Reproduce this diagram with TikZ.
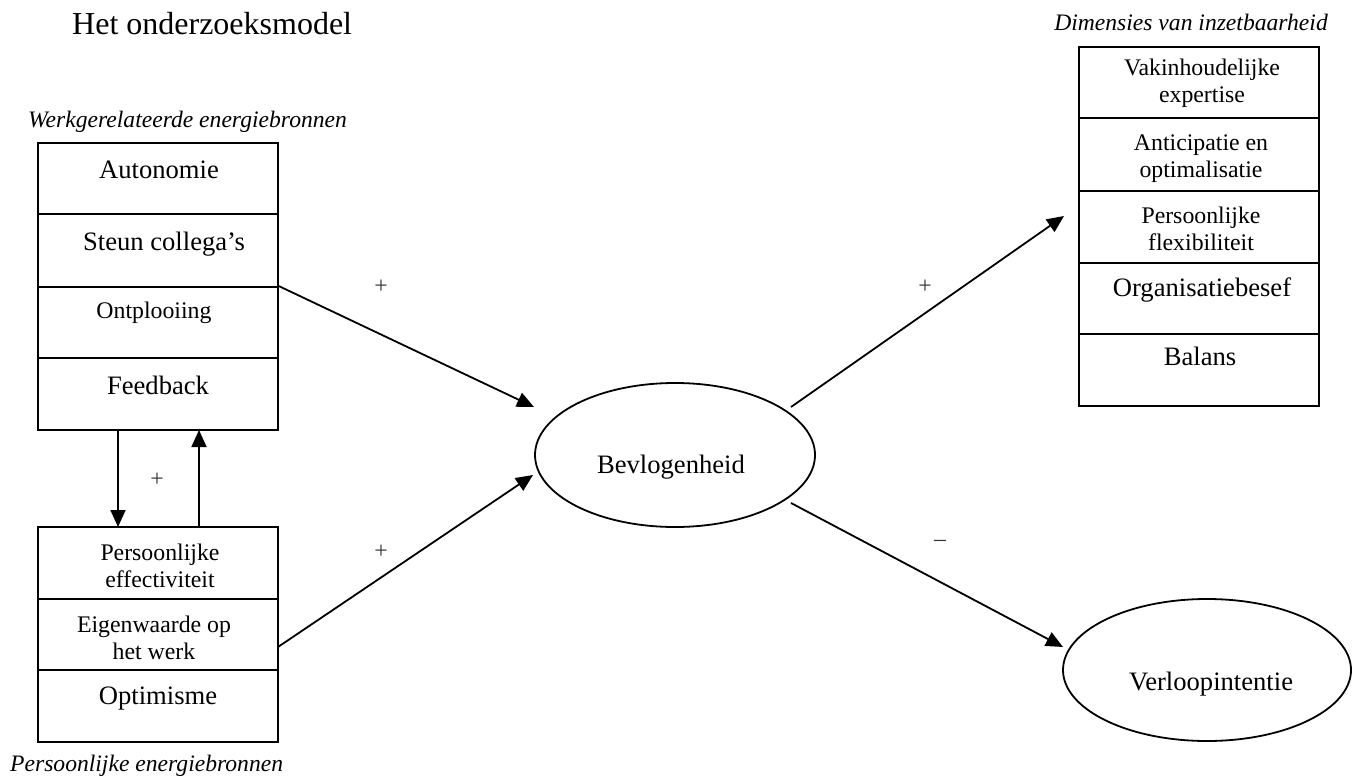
\documentclass[tikz,border=0pt]{standalone}
\usepackage{fontspec}
\setmainfont{Liberation Serif}
\usetikzlibrary{arrows.meta,shapes.geometric}
\begin{document}
\begin{tikzpicture}[x=1pt,y=-1pt,
  cellbox/.style={draw,line width=1.8pt,minimum width=240pt,inner sep=0pt},
  big/.style={font=\fontsize{26.6}{30}\selectfont,inner sep=0pt,align=center},
  small/.style={font=\fontsize{23.8}{27}\selectfont,inner sep=0pt,align=center},
  lab/.style={font=\fontsize{23.6}{27}\selectfont\itshape,inner sep=0pt},
  sign/.style={font=\fontsize{23.8}{27}\selectfont,inner sep=0pt,text=black!80},
  oval/.style={draw,ellipse,line width=1.8pt,inner sep=0pt},
  arr/.style={line width=1.8pt,-{Triangle[length=17pt,width=15pt]}}]
\useasboundingbox (0,0) rectangle (1359,778);
% title and labels
\node[font=\fontsize{32}{38}\selectfont,anchor=base west,inner sep=0pt] (title) at (72,35) {Het onderzoeksmodel};
\node[lab,anchor=base west] (lw) at (28,128) {Werkgerelateerde energiebronnen};
\node[lab,anchor=base west] (lp) at (10,771) {Persoonlijke energiebronnen};
\node[lab,anchor=base east] (ld) at (1328,31) {Dimensies van inzetbaarheid};
% work resources box
\node[cellbox,minimum height=71pt] (w1) at (158,178.5) {};
\node[cellbox,minimum height=73pt] (w2) at (158,250.5) {};
\node[cellbox,minimum height=71pt] (w3) at (158,322.5) {};
\node[cellbox,minimum height=72pt] (w4) at (158,394) {};
\node[big,anchor=north,yshift=-19pt,xshift=1pt] (tw1) at (w1.north) {Autonomie};
\node[big,anchor=north,yshift=-19pt,xshift=6pt] (tw2) at (w2.north) {Steun collega’s};
\node[small,anchor=north,yshift=-16pt,xshift=-4pt] (tw3) at (w3.north) {Ontplooiing};
\node[big,anchor=north,yshift=-19pt] (tw4) at (w4.north) {Feedback};
% personal resources box
\node[cellbox,minimum height=72pt] (p1) at (158,563) {};
\node[cellbox,minimum height=71pt] (p2) at (158,634.5) {};
\node[cellbox,minimum height=72pt] (p3) at (158,706) {};
\node[small,anchor=north,yshift=-18pt,xshift=2pt] (tp1) at (p1.north) {Persoonlijke\\effectiviteit};
\node[small,anchor=north,yshift=-18pt,xshift=-4pt] (tp2) at (p2.north) {Eigenwaarde op\\het werk};
\node[big,anchor=north,yshift=-18pt] (tp3) at (p3.north) {Optimisme};
% employability box
\node[cellbox,minimum height=71pt] (d1) at (1199,82.5) {};
\node[cellbox,minimum height=73pt] (d2) at (1199,154.5) {};
\node[cellbox,minimum height=72pt] (d3) at (1199,227) {};
\node[cellbox,minimum height=71pt] (d4) at (1199,298.5) {};
\node[cellbox,minimum height=72pt] (d5) at (1199,370) {};
\node[small,anchor=north,yshift=-13pt,xshift=3pt] (td1) at (d1.north) {Vakinhoudelijke\\expertise};
\node[small,anchor=north,yshift=-17pt,xshift=2pt] (td2) at (d2.north) {Anticipatie en\\optimalisatie};
\node[small,anchor=north,yshift=-17pt,xshift=2pt] (td3) at (d3.north) {Persoonlijke\\flexibiliteit};
\node[big,anchor=north,yshift=-15pt,xshift=3pt] (td4) at (d4.north) {Organisatiebesef};
\node[big,anchor=north,yshift=-14pt,xshift=1pt] (td5) at (d5.north) {Balans};
% ellipses
\node[oval,minimum width=280pt,minimum height=144pt] (bev) at (675,455) {};
\node[big,anchor=base] (tbev) at (671,473) {Bevlogenheid};
\node[oval,minimum width=288pt,minimum height=142pt] (ver) at (1207,670) {};
\node[big,anchor=base] (tver) at (1211,690) {Verloopintentie};
% connector end points
\coordinate (dn1) at (118,430);
\coordinate (dn2) at (118,527);
\coordinate (up1) at (199,527);
\coordinate (up2) at (199,430);
\coordinate (tA) at (534,407);
\coordinate (sB) at (278,647);
\coordinate (tB) at (533,475);
\coordinate (sC) at (791,407);
\coordinate (tC) at (1064,216);
\coordinate (sD) at (791,503);
\coordinate (tD) at (1063,647);
% connectors
\draw[arr] (dn1) -- (dn2);
\draw[arr] (up1) -- (up2);
\draw[arr] (w3.north east) -- (tA);
\draw[arr] (sB) -- (tB);
\draw[arr] (sC) -- (tC);
\draw[arr] (sD) -- (tD);
% signs
\node[sign] (s1) at (157,480) {+};
\node[sign] (s2) at (381,287) {+};
\node[sign] (s3) at (381,552) {+};
\node[sign] (s4) at (925,287) {+};
\node[sign,anchor=base] (s5) at (940,546) {–};
\end{tikzpicture}
\end{document}
